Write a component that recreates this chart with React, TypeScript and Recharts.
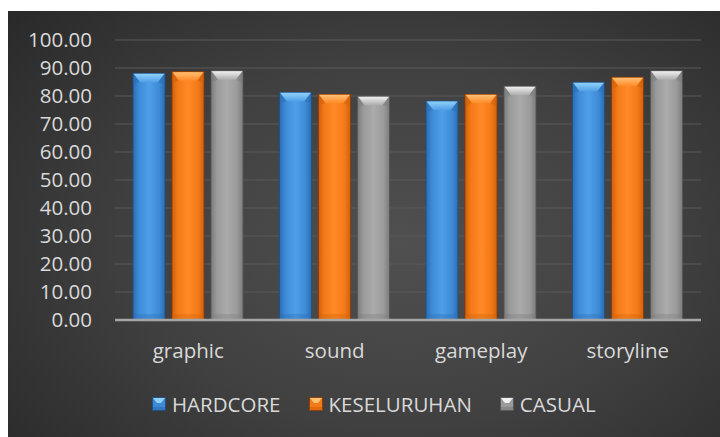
import React from "react";
import { BarChart, Bar, XAxis, YAxis, CartesianGrid } from "recharts";

const categories = ["graphic", "sound", "gameplay", "storyline"];
const hardcore = [88.1, 81.3, 78.2, 84.9];
const keseluruhan = [88.7, 80.6, 80.6, 86.7];
const casual = [89.0, 79.9, 83.5, 89.0];
const yTicks = [0, 10, 20, 30, 40, 50, 60, 70, 80, 90, 100];

const seriesNames = ["HARDCORE", "KESELURUHAN", "CASUAL"];
const seriesKeys = ["hardcore", "keseluruhan", "casual"];

const palettes: Record<string, { dark: string; base: string; light: string; bevel: string; edge: string }> = {
  hardcore: { dark: "#2a6db3", base: "#3d8ad6", light: "#4f9fe8", bevel: "#8fd0f7", edge: "#1d4f86" },
  keseluruhan: { dark: "#d2600a", base: "#f27a18", light: "#ff8a26", bevel: "#ffbf75", edge: "#8a3a05" },
  casual: { dark: "#7c7c7c", base: "#9a9a9a", light: "#ababab", bevel: "#f0f0f0", edge: "#555555" },
};

const data = categories.map((c, i) => ({
  name: c,
  hardcore: hardcore[i],
  keseluruhan: keseluruhan[i],
  casual: casual[i],
}));

const FONT = "'Open Sans', sans-serif";
const TEXT = "#d9d9d9";
const FS = 20.5;

function makeShape(key: string) {
  return (props: any) => {
    const { x, y, width, height } = props;
    if (height <= 0) return null;
    const p = palettes[key];
    const b = Math.min(9, height / 2);
    const inset = width * 0.22;
    return (
      <g>
        <rect x={x} y={y} width={width} height={height} fill={`url(#side-${key})`} stroke={p.edge} strokeWidth={0.8} />
        <polygon
          points={`${x + 0.5},${y + 0.5} ${x + width - 0.5},${y + 0.5} ${x + width - inset},${y + b} ${x + inset},${y + b}`}
          fill={`url(#bevel-${key})`}
        />
        <polygon
          points={`${x + 0.5},${y + 0.5} ${x + inset},${y + b} ${x + 0.5},${y + b + 2}`}
          fill={p.dark}
          opacity={0.5}
        />
        <polygon
          points={`${x + width - 0.5},${y + 0.5} ${x + width - inset},${y + b} ${x + width - 0.5},${y + b + 2}`}
          fill={p.dark}
          opacity={0.5}
        />
        <rect x={x + 0.5} y={y + height - 6} width={width - 1} height={6} fill={p.dark} opacity={0.35} />
      </g>
    );
  };
}

function Marker({ k }: { k: string }) {
  const p = palettes[k];
  return (
    <svg width={14} height={14} style={{ display: "block" }}>
      <rect x={0.5} y={0.5} width={13} height={13} fill={p.base} stroke={p.edge} strokeWidth={0.8} />
      <polygon points="1,1 13,1 9,6 5,6" fill={p.bevel} />
      <rect x={1} y={10} width={12} height={3} fill={p.dark} opacity={0.6} />
    </svg>
  );
}

function LegendBlock() {
  return (
    <div
      style={{
        position: "absolute",
        left: 144,
        top: 381,
        display: "flex",
        alignItems: "center",
        fontFamily: FONT,
        fontSize: FS,
        color: TEXT,
        whiteSpace: "nowrap",
      }}
    >
      {seriesKeys.map((k, i) => (
        <div key={k} style={{ display: "flex", alignItems: "center", marginRight: 28 }}>
          <Marker k={k} />
          <span style={{ marginLeft: 6, lineHeight: "24px" }}>{seriesNames[i]}</span>
        </div>
      ))}
    </div>
  );
}

export default function App() {
  return (
    <div
      style={{
        position: "absolute",
        left: 8,
        top: 11,
        width: 712,
        height: 426,
        background: "radial-gradient(ellipse 75% 85% at 55% 55%, #505050 0%, #404040 50%, #282828 100%)",
        overflow: "hidden",
      }}
    >
      <BarChart
        width={712}
        height={426}
        data={data}
        margin={{ top: 29, right: 19, left: 0, bottom: 87 }}
        barSize={32}
        barGap={7}
      >
        <defs>
          {seriesKeys.map((k) => {
            const p = palettes[k];
            return (
              <React.Fragment key={k}>
                <linearGradient id={`side-${k}`} x1="0" y1="0" x2="1" y2="0">
                  <stop offset="0%" stopColor={p.dark} />
                  <stop offset="18%" stopColor={p.base} />
                  <stop offset="50%" stopColor={p.light} />
                  <stop offset="82%" stopColor={p.base} />
                  <stop offset="100%" stopColor={p.dark} />
                </linearGradient>
                <linearGradient id={`bevel-${k}`} x1="0" y1="0" x2="0" y2="1">
                  <stop offset="0%" stopColor={p.bevel} />
                  <stop offset="100%" stopColor={p.light} />
                </linearGradient>
              </React.Fragment>
            );
          })}
        </defs>
        <CartesianGrid vertical={false} stroke="#5a5a5a" strokeWidth={1} />
        <XAxis
          dataKey="name"
          height={30}
          tickLine={false}
          tickSize={0}
          tickMargin={23}
          axisLine={{ stroke: "#a6a6a6", strokeWidth: 2.5 }}
          tick={{ fill: TEXT, fontSize: FS, fontFamily: FONT }}
        />
        <YAxis
          domain={[0, 100]}
          ticks={yTicks}
          width={107}
          axisLine={false}
          tickLine={false}
          tickSize={0}
          tickMargin={23}
          tickFormatter={(v: number) => v.toFixed(2)}
          tick={{ fill: TEXT, fontSize: FS, fontFamily: FONT }}
          interval={0}
        />
        {seriesKeys.map((k, i) => (
          <Bar
            key={k}
            dataKey={k}
            name={seriesNames[i]}
            fill={palettes[k].base}
            shape={makeShape(k)}
            isAnimationActive={false}
          />
        ))}
      </BarChart>
      <LegendBlock />
    </div>
  );
}
